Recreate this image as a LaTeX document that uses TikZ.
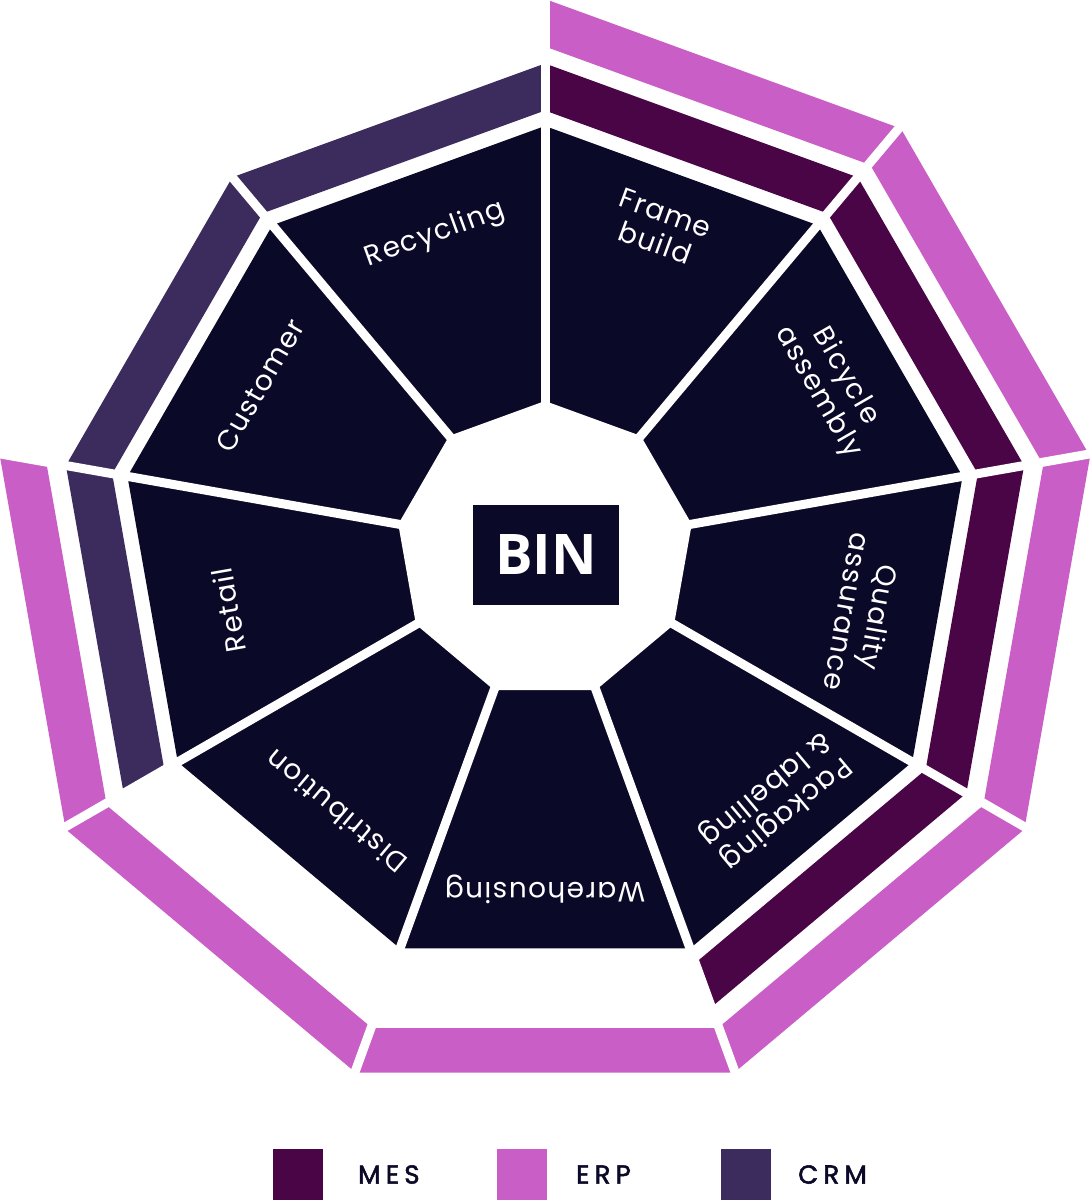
\documentclass[tikz,border=0pt]{standalone}
\usepackage{fontspec}
\newfontfamily\lblfont[LetterSpace=5]{Poppins}
\newfontfamily\legfont[LetterSpace=20,FakeBold=2]{Poppins}
\newfontfamily\binfont{Open Sans}
\definecolor{darkfill}{RGB}{11,9,40}
\definecolor{mescol}{RGB}{74,5,70}
\definecolor{erpcol}{RGB}{201,94,198}
\definecolor{crmcol}{RGB}{60,44,94}
\tikzset{
  lbl/.style={text=white, align=center, inner sep=0pt,
    font=\lblfont\fontsize{28}{32}\selectfont},
  legsq/.style={minimum width=50pt, minimum height=51pt, inner sep=0pt},
  legtxt/.style={text=darkfill, anchor=west, inner sep=0pt,
    font=\legfont\fontsize{26}{30}\selectfont},
  gapline/.style={white, line width=9pt}
}
\begin{document}
\begin{tikzpicture}[x=1pt,y=1pt]
\useasboundingbox (0,0) rectangle (1092,-1200);
\fill[white] (0,0) rectangle (1092,-1200);
% outer ring: ERP
\begin{scope}[shift={(545,-552.5)}]
  \foreach \k in {0,...,6}{
    \fill[erpcol] ({90-40*\k}:506) -- ({90-40*\k}:553.5) -- ({50-40*\k}:553.5) -- ({50-40*\k}:506) -- cycle;
  }
\end{scope}
\begin{scope}[shift={(545,-550)}]
  % inner ring: MES
  \foreach \k in {0,...,3}{
    \fill[mescol] ({90-40*\k}:439.5) -- ({90-40*\k}:486.5) -- ({50-40*\k}:486.5) -- ({50-40*\k}:439.5) -- cycle;
  }
  % inner ring: CRM
  \foreach \k in {6,7,8}{
    \fill[crmcol] ({90-40*\k}:439.5) -- ({90-40*\k}:486.5) -- ({50-40*\k}:486.5) -- ({50-40*\k}:439.5) -- cycle;
  }
  % dark nonagon
  \fill[darkfill] (90:424) \foreach \i in {1,...,8}{ -- ({90-40*\i}:424) } -- cycle;
  % gaps
  \foreach \i in {0,...,8}{
    \draw[gapline] (0,0) -- ({90-40*\i}:600);
  }
  % inner white nonagon
  \fill[white] (90:149) \foreach \i in {1,...,8}{ -- ({90-40*\i}:149) } -- cycle;
  % labels
  \node[lbl, rotate=-20]  (frame)   at (70.3:342)   {Frame\\build};
  \node[lbl, rotate=-60]  (bicycle) at (30:331)     {Bicycle\\assembly};
  \node[lbl, rotate=-100] (quality) at (-11.5:325)  {Quality\\assurance};
  \node[lbl, rotate=-140] (packag)  at (-47.4:340)  {Packaging\\\& labelling};
  \node[lbl, rotate=180]  (wareh)   at (-90:339)    {Warehousing};
  \node[lbl, rotate=140]  (distr)   at (-128.6:335) {Distribution};
  \node[lbl, rotate=100]  (retail)  at (-169.2:322) {Retail};
  \node[lbl, rotate=60]   (cust)    at (150:329)    {Customer};
  \node[lbl, rotate=20]   (recyc)   at (109.2:334)  {Recycling};
\end{scope}
% centre box
\node[fill=darkfill, text=white, minimum width=146pt, minimum height=100pt, inner sep=0pt,
  font=\binfont\bfseries\fontsize{56}{60}\selectfont] (bin) at (546,-555) {BIN};
% legend
\node[legsq, fill=mescol] (messq) at (298,-1174.5) {};
\node[legsq, fill=erpcol] (erpsq) at (522,-1174.5) {};
\node[legsq, fill=crmcol] (crmsq) at (746,-1174.5) {};
\node[legtxt] (mestxt) at (358,-1174.5) {MES};
\node[legtxt] (erptxt) at (576,-1174.5) {ERP};
\node[legtxt] (crmtxt) at (798,-1174.5) {CRM};
\end{tikzpicture}
\end{document}
